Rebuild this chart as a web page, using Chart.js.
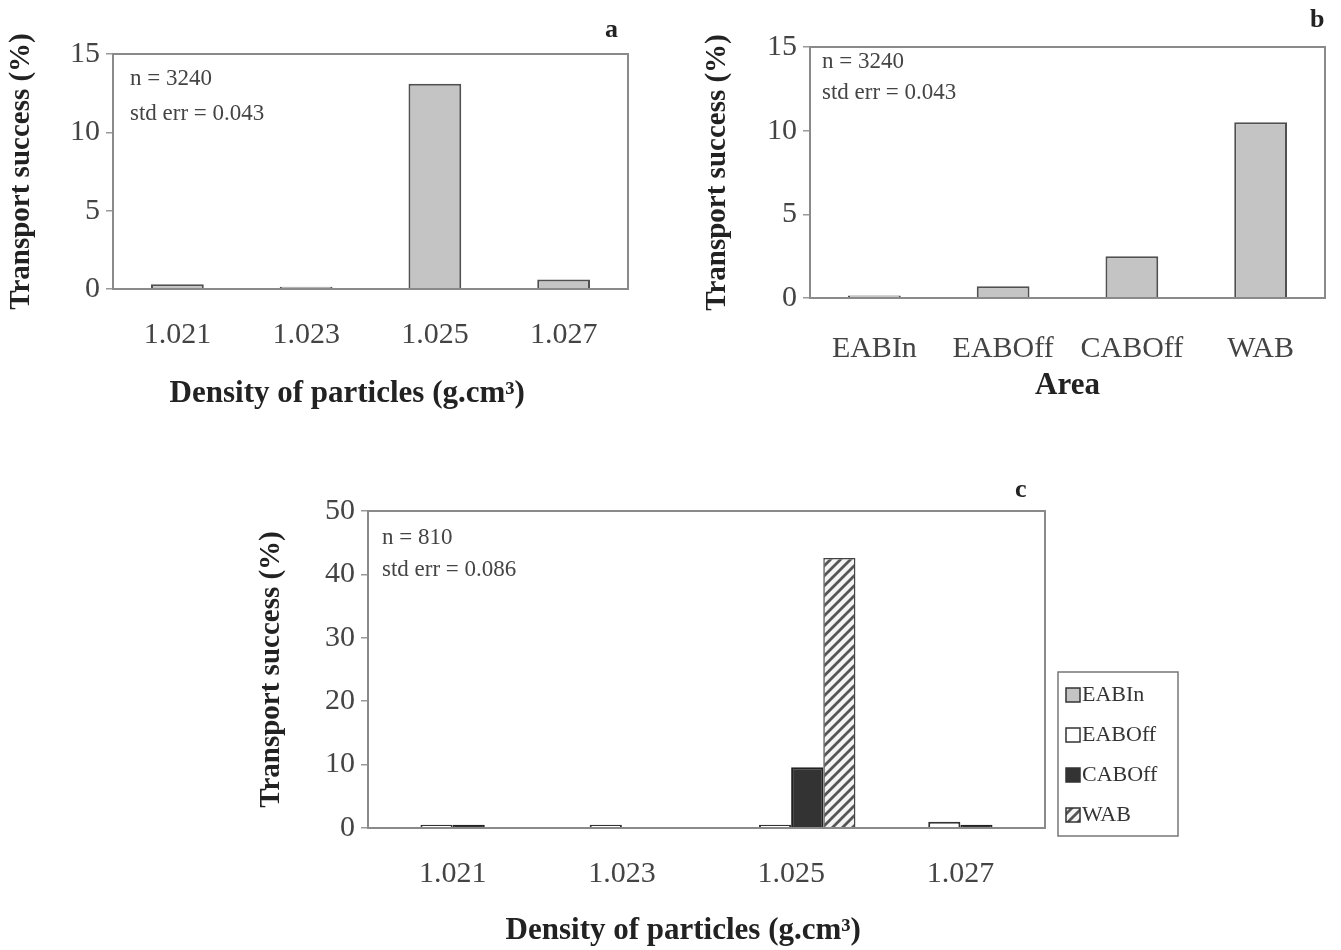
<!DOCTYPE html>
<html>
<head>
<meta charset="utf-8">
<script src="https://cdn.jsdelivr.net/npm/chart.js@4/dist/chart.umd.min.js"></script>
<style>
  html, body { margin: 0; padding: 0; background: #fff; }
  body { width: 1341px; height: 950px; position: relative; overflow: hidden; }
  .wrap { position: absolute; }
  .lbl { position: absolute; font-family: 'Liberation Serif', serif; font-weight: bold; font-size: 26px; color: #222; }
</style>
</head>
<body>
<div class="wrap" style="left:0px;top:0px;width:640px;height:417px;"><canvas id="ca"></canvas></div>
<div class="wrap" style="left:700px;top:0px;width:641px;height:407px;"><canvas id="cb"></canvas></div>
<div class="wrap" style="left:250px;top:460px;width:950px;height:490px;"><canvas id="cc"></canvas></div>
<div class="lbl" style="left:605px;top:14px;">a</div>
<div class="lbl" style="left:1310px;top:4px;">b</div>
<div class="lbl" style="left:1015px;top:474px;">c</div>
<script>
// ---- data ----
const densities = ['1.021', '1.023', '1.025', '1.027'];
const areas = ['EABIn', 'EABOff', 'CABOff', 'WAB'];
const successByDensity = [0.3, 0.15, 13.1, 0.6];
const successByArea = [0.15, 0.7, 2.5, 10.5];
const eabIn = [0, 0, 0, 0];
const eabOff = [0.5, 0.5, 0.5, 1.0];
const cabOff = [0.5, 0, 9.6, 0.5];
const wab = [0, 0, 42.6, 0];
const ticks15 = [0, 5, 10, 15];
const ticks50 = [0, 10, 20, 30, 40, 50];
const notesA = ['n = 3240', 'std err = 0.043'];
const notesB = ['n = 3240', 'std err = 0.043'];
const notesC = ['n = 810', 'std err = 0.086'];

const SERIF = "'Liberation Serif', 'Times New Roman', serif";
const GRAY = '#c4c4c4';
const EDGE = '#505050';
const PAD = '\u00a0\u00a0\u00a0\u00a0\u00a0\u00a0';

function hatch() {
  const c = document.createElement('canvas');
  c.width = 10; c.height = 10;
  const g = c.getContext('2d');
  g.fillStyle = '#f4f4f4'; g.fillRect(0, 0, 10, 10);
  g.strokeStyle = '#555'; g.lineWidth = 2.8;
  g.beginPath();
  g.moveTo(-2, 12); g.lineTo(12, -2);
  g.moveTo(-2, 2); g.lineTo(2, -2);
  g.moveTo(8, 12); g.lineTo(12, 8);
  g.stroke();
  return g.createPattern(c, 'repeat');
}

const framePlugin = {
  id: 'frame',
  afterDraw(chart, args, opts) {
    const ctx = chart.ctx, a = chart.chartArea;
    ctx.save();
    ctx.strokeStyle = '#8a8a8a';
    ctx.lineWidth = 2;
    ctx.strokeRect(a.left, a.top, a.right - a.left, a.bottom - a.top);
    ctx.fillStyle = '#444';
    ctx.font = '23px ' + SERIF;
    ctx.textBaseline = 'middle';
    (opts.notes || []).forEach((t, i) => {
      ctx.fillText(t, a.left + opts.nx, a.top + opts.ny + i * opts.ns);
    });
    if (opts.legend) {
      const L = opts.legend;
      ctx.strokeStyle = '#777';
      ctx.lineWidth = 1.5;
      ctx.strokeRect(L.x, L.y, L.w, L.h);
      chart.data.datasets.forEach((ds, i) => {
        const cy = L.y + L.first + i * L.step;
        ctx.fillStyle = ds.backgroundColor;
        ctx.fillRect(L.x + 8, cy - 7, 14, 14);
        ctx.strokeStyle = '#333';
        ctx.lineWidth = 1.5;
        ctx.strokeRect(L.x + 8, cy - 7, 14, 14);
        ctx.fillStyle = '#333';
        ctx.font = '22px ' + SERIF;
        ctx.fillText(ds.label, L.x + 24, cy);
      });
    }
    ctx.restore();
  }
};

function yAxis(max, tickVals, width, titlePad) {
  return {
    min: 0, max: max,
    afterBuildTicks: s => { s.ticks = tickVals.map(v => ({ value: v })); },
    afterFit: s => { s.width = width; },
    border: { display: false },
    grid: { drawOnChartArea: false, drawTicks: true, tickLength: 7, color: '#999', lineWidth: 1.5 },
    ticks: { font: { family: SERIF, size: 30 }, color: '#444', padding: 6 },
    title: { display: true, text: 'Transport success (%)', color: '#222',
      font: { family: SERIF, size: 29, weight: 'bold' }, padding: { top: titlePad, bottom: 0 } }
  };
}
function xAxis(height, title, tickPad, titlePad) {
  return {
    afterFit: s => { s.height = height; },
    border: { display: false },
    grid: { display: false },
    ticks: { font: { family: SERIF, size: 30 }, color: '#444', padding: tickPad },
    title: { display: true, text: title, color: '#222',
      font: { family: SERIF, size: 31, weight: 'bold' }, padding: { top: 0, bottom: titlePad } }
  };
}
const common = {
  responsive: true, maintainAspectRatio: false, animation: false,
  plugins: { legend: { display: false }, tooltip: { enabled: false } }
};

new Chart(document.getElementById('ca'), {
  type: 'bar',
  data: { labels: densities, datasets: [{ label: 'All', data: successByDensity,
    backgroundColor: GRAY, borderColor: EDGE, borderWidth: 2,
    categoryPercentage: 1, barPercentage: 0.41 }] },
  options: Object.assign({}, common, {
    layout: { padding: { top: 54, right: 12, left: 0, bottom: 0 } },
    scales: { x: xAxis(128, 'Density of particles (g.cm³)' + PAD, 20, 4), y: yAxis(15, ticks15, 113, 4) },
    plugins: Object.assign({}, common.plugins, { frame: { notes: notesA, nx: 17, ny: 25, ns: 35 } })
  }),
  plugins: [framePlugin]
});

new Chart(document.getElementById('cb'), {
  type: 'bar',
  data: { labels: areas, datasets: [{ label: 'All', data: successByArea,
    backgroundColor: GRAY, borderColor: EDGE, borderWidth: 2,
    categoryPercentage: 1, barPercentage: 0.41 }] },
  options: Object.assign({}, common, {
    layout: { padding: { top: 47, right: 16, left: 0, bottom: 0 } },
    scales: { x: xAxis(109, 'Area', 25, 2), y: yAxis(15, ticks15, 110, 0) },
    plugins: Object.assign({}, common.plugins, { frame: { notes: notesB, nx: 12, ny: 15, ns: 31 } })
  }),
  plugins: [framePlugin]
});

const pat = hatch();
new Chart(document.getElementById('cc'), {
  type: 'bar',
  data: { labels: densities, datasets: [
    { label: areas[0], data: eabIn, backgroundColor: GRAY, borderColor: '#333', borderWidth: 2 },
    { label: areas[1], data: eabOff, backgroundColor: '#ffffff', borderColor: '#333', borderWidth: 2 },
    { label: areas[2], data: cabOff, backgroundColor: '#333333', borderColor: '#222', borderWidth: 2 },
    { label: areas[3], data: wab, backgroundColor: pat, borderColor: '#444', borderWidth: 1.5 }
  ].map(d => Object.assign(d, { categoryPercentage: 0.76, barPercentage: 1 })) },
  options: Object.assign({}, common, {
    layout: { padding: { top: 51, right: 155, left: 0, bottom: 0 } },
    scales: { x: xAxis(122, 'Density of particles (g.cm³)' + PAD, 20, 0), y: yAxis(50, ticks50, 118, 4) },
    plugins: Object.assign({}, common.plugins, { frame: { notes: notesC, nx: 14, ny: 27, ns: 32,
      legend: { x: 808, y: 212, w: 120, h: 164, first: 23, step: 40 } } })
  }),
  plugins: [framePlugin]
});
</script>
</body>
</html>
